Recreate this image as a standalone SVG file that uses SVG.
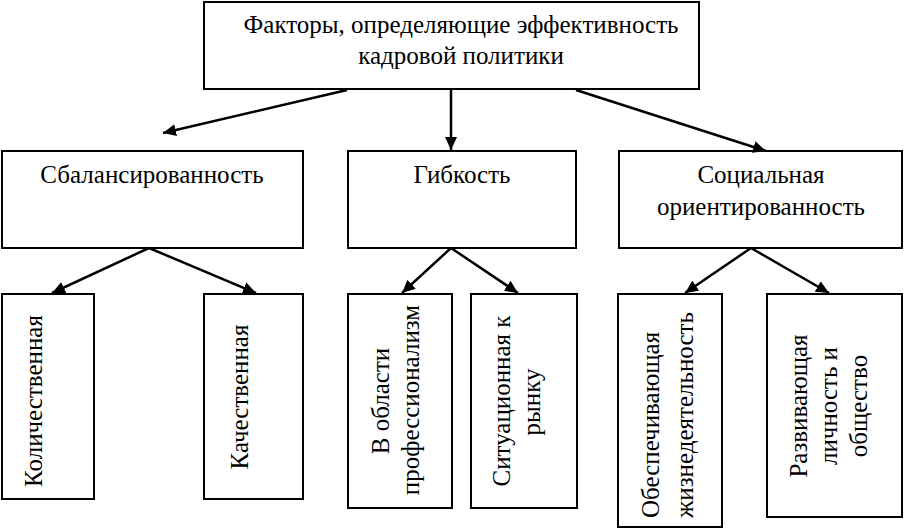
<svg xmlns="http://www.w3.org/2000/svg" width="904" height="528" viewBox="0 0 904 528">
<defs>
<marker id="ah" markerWidth="14" markerHeight="12" refX="13" refY="6" orient="auto" markerUnits="userSpaceOnUse">
<path d="M0,0 L13,6 L0,12 Z" fill="#000"/>
</marker>
<style>
rect{fill:#fff;stroke:#000;stroke-width:2}
text{font-family:'Liberation Serif','Times New Roman',serif;font-size:25px;fill:#000;text-anchor:middle}
.c line{stroke:#000;stroke-width:2.5;marker-end:url(#ah)}
</style>
</defs>
<rect x="0" y="0" width="904" height="528" style="stroke:none"/>
<g id="top"><rect x="204" y="2" width="495" height="87"/>
<text x="461" y="33">Факторы, определяющие эффективность</text>
<text x="461" y="64">кадровой политики</text></g>
<g id="bal"><rect x="2" y="151" width="301" height="97"/><text x="152" y="183">Сбалансированность</text></g>
<g id="gib"><rect x="348" y="151" width="228" height="97"/><text x="462" y="183">Гибкость</text></g>
<g id="soc"><rect x="619" y="151" width="283" height="97"/><text x="761" y="183">Социальная</text><text x="761" y="215">ориентированность</text></g>
<g id="kol"><rect x="2" y="294" width="92" height="205"/><text transform="translate(42,401) rotate(-90)">Количественная</text></g>
<g id="kach"><rect x="204" y="294" width="99" height="205"/><text transform="translate(248,397) rotate(-90)">Качественная</text></g>
<g id="prof"><rect x="348" y="294" width="104" height="214"/><text transform="translate(389,401) rotate(-90)">В области</text><text transform="translate(419,400) rotate(-90)">профессионализм</text></g>
<g id="sit"><rect x="471" y="294" width="106" height="214"/><text transform="translate(510,401) rotate(-90)">Ситуационная к</text><text transform="translate(540,402) rotate(-90)">рынку</text></g>
<g id="obes"><rect x="618" y="294" width="104" height="233"/><text transform="translate(659,518) rotate(-90)" text-anchor="start" style="text-anchor:start">Обеспечивающая</text><text transform="translate(693,518) rotate(-90)" style="text-anchor:start">жизнедеятельность</text></g>
<g id="razv"><rect x="767" y="294" width="135" height="223"/><text transform="translate(807,406) rotate(-90)">Развивающая</text><text transform="translate(837,406) rotate(-90)">личность и</text><text transform="translate(867,406) rotate(-90)">общество</text></g>
<g class="c" id="connectors">
<line x1="347" y1="90" x2="163" y2="133"/>
<line x1="451" y1="90" x2="451" y2="150"/>
<line x1="576" y1="90" x2="766" y2="151"/>
<line x1="149" y1="248" x2="52" y2="293"/>
<line x1="149" y1="248" x2="256" y2="293"/>
<line x1="451" y1="248" x2="402" y2="293"/>
<line x1="451" y1="248" x2="518" y2="293"/>
<line x1="751" y1="248" x2="685" y2="293"/>
<line x1="751" y1="248" x2="829" y2="293"/>
</g>
</svg>
